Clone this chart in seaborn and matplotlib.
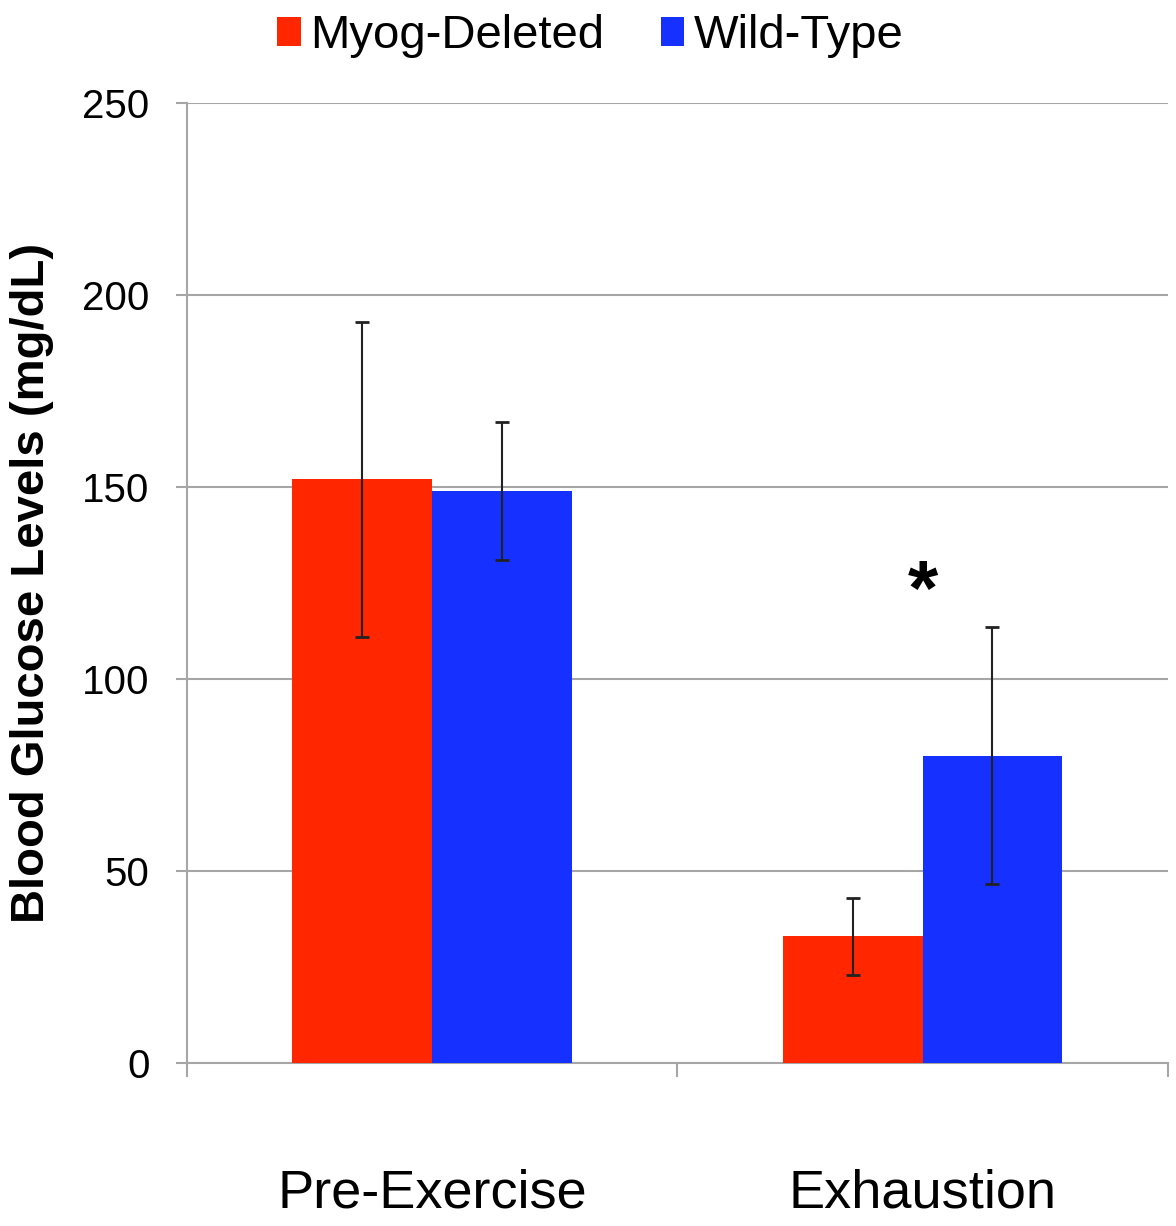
import matplotlib
matplotlib.use("Agg")
import matplotlib.pyplot as plt
import seaborn as sns
import pandas as pd

# Blood glucose by time point and genotype
conditions = ["Pre-Exercise", "Exhaustion"]
genotypes = ["Myog-Deleted", "Wild-Type"]
myog_mean = [152, 33]
wt_mean = [149, 80]
myog_err = [41, 10]
wt_err = [18, 33.5]
y_ticks = [0, 50, 100, 150, 200, 250]
star_y = 122

colors = {"Myog-Deleted": "#FF2600", "Wild-Type": "#1530FF"}
grid_gray = "#A6A6A6"

df = pd.DataFrame({
    "Condition": conditions * 2,
    "Genotype": [genotypes[0]] * 2 + [genotypes[1]] * 2,
    "Glucose": myog_mean + wt_mean,
    "Err": myog_err + wt_err,
})

sns.set_theme(style="white")
plt.rcParams["font.family"] = ["Liberation Sans", "DejaVu Sans"]
plt.rcParams["text.color"] = "black"
plt.rcParams["axes.labelcolor"] = "black"
plt.rcParams["xtick.labelcolor"] = "black"
plt.rcParams["ytick.labelcolor"] = "black"

fig = plt.figure(figsize=(11.76, 12.26), dpi=100)
ax = fig.add_axes([0.159, 0.133, 0.834, 0.783])

sns.barplot(data=df, x="Condition", y="Glucose", hue="Genotype",
            order=conditions, hue_order=genotypes, palette=colors,
            width=0.57, errorbar=None, saturation=1, linewidth=0,
            ax=ax, zorder=3)

# Error bars centred on each drawn bar
for cont, g in zip(ax.containers, genotypes):
    sub = df[df["Genotype"] == g].set_index("Condition").loc[conditions]
    xs = [p.get_x() + p.get_width() / 2 for p in cont]
    ax.errorbar(xs, sub["Glucose"], yerr=sub["Err"], fmt="none",
                ecolor="#222222", elinewidth=1.5, capsize=5, capthick=2,
                zorder=4)

ax.text(1, star_y, "*", ha="center", va="center", fontsize=56,
        fontweight="bold", color="black", zorder=5)

ax.set_ylim(0, 250)
ax.set_xlim(-0.5, 1.5)
ax.set_yticks(y_ticks)
ax.set_yticklabels([str(t) for t in y_ticks], fontsize=29)
ax.yaxis.grid(True, color=grid_gray, linewidth=1.5, zorder=0)
ax.set_axisbelow(True)
ax.tick_params(axis="y", which="major", length=8, width=1.5,
               color=grid_gray, pad=19, left=True)

# Category labels below, boundary ticks between groups
ax.set_xticks([0, 1])
ax.set_xticklabels(conditions, fontsize=39)
ax.tick_params(axis="x", which="major", length=0, pad=76)
ax.set_xticks([-0.5, 0.5, 1.5], minor=True)
ax.tick_params(axis="x", which="minor", length=10, width=1.5,
               color=grid_gray, bottom=True)

ax.set_xlabel("")
ax.set_ylabel("Blood Glucose Levels (mg/dL)", fontsize=34,
              fontweight="bold", labelpad=20)

for side in ["top", "right"]:
    ax.spines[side].set_visible(False)
for side in ["left", "bottom"]:
    ax.spines[side].set_color(grid_gray)
    ax.spines[side].set_linewidth(1.5)

handles, labels = ax.get_legend_handles_labels()
ax.legend_.remove()
fig.legend(handles, labels, loc="upper center", bbox_to_anchor=(0.502, 1.004),
           ncol=2, frameon=False, fontsize=34, handlelength=0.5,
           handleheight=0.55, handletextpad=0.2, columnspacing=1.2,
           borderaxespad=0.0)

fig.savefig("out.png", dpi=100)
